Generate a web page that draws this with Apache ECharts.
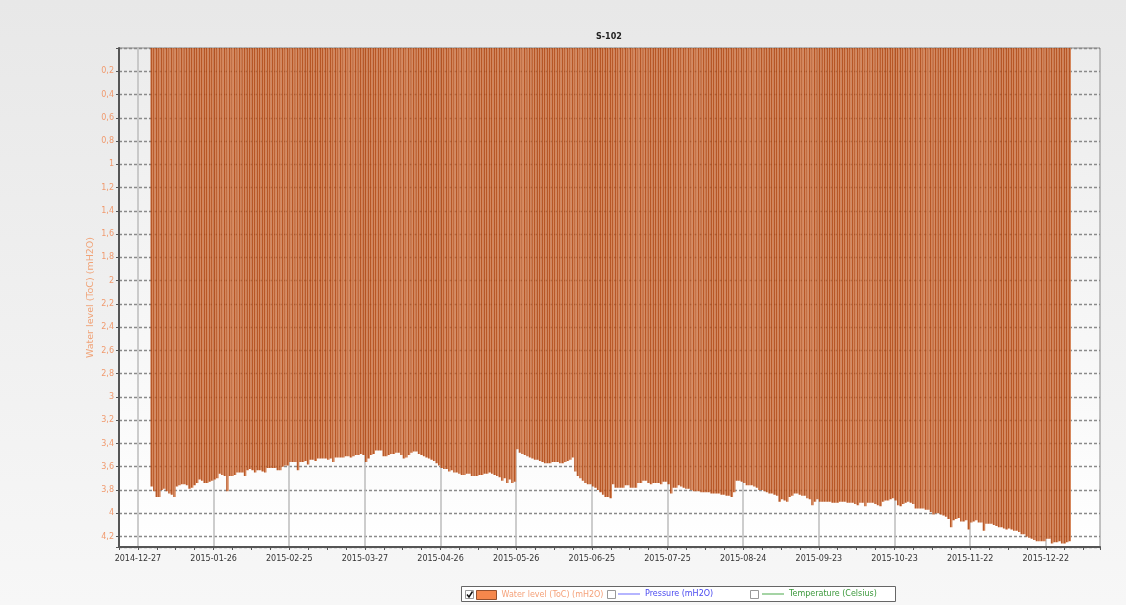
<!DOCTYPE html>
<html><head><meta charset="utf-8">
<script src="https://cdn.jsdelivr.net/npm/echarts@6/dist/echarts.min.js"></script>
<style>html,body{margin:0;padding:0;background:#fff}#c{width:1126px;height:605px}</style>
</head><body><div id="c"></div>
<script>
// ---- data (daily water level, mH2O, 2015) ----
const chartTitle = 'S-102';
const firstDay = '2015-01-01';
const axisOrigin = '2014-12-27';
const jan = [3.77,3.81,3.86,3.86,3.80,3.79,3.81,3.83,3.84,3.86,3.77,3.76,3.75,3.75,3.76,3.79,3.78,3.76,3.74,3.71,3.72,3.74,3.74,3.73,3.72,3.71,3.70,3.66,3.67,3.68,3.81];
const feb = [3.68,3.68,3.67,3.65,3.65,3.65,3.68,3.63,3.62,3.63,3.65,3.63,3.63,3.64,3.65,3.61,3.61,3.61,3.61,3.63,3.63,3.60,3.59,3.59,3.56,3.56,3.56,3.63];
const mar = [3.56,3.56,3.55,3.58,3.54,3.54,3.55,3.53,3.53,3.53,3.53,3.54,3.53,3.56,3.52,3.52,3.52,3.52,3.51,3.51,3.52,3.51,3.50,3.50,3.49,3.50,3.56,3.53,3.50,3.49,3.46];
const apr = [3.46,3.46,3.51,3.51,3.50,3.49,3.49,3.48,3.48,3.50,3.53,3.52,3.50,3.48,3.47,3.47,3.49,3.50,3.51,3.52,3.53,3.54,3.55,3.57,3.59,3.61,3.62,3.62,3.64,3.63];
const may = [3.65,3.65,3.66,3.67,3.67,3.66,3.66,3.68,3.68,3.68,3.67,3.67,3.66,3.66,3.65,3.66,3.67,3.68,3.69,3.72,3.70,3.74,3.71,3.74,3.73,3.45,3.48,3.49,3.50,3.51,3.52];
const jun = [3.53,3.54,3.54,3.55,3.56,3.57,3.57,3.57,3.56,3.56,3.56,3.57,3.57,3.56,3.55,3.54,3.52,3.64,3.68,3.70,3.72,3.74,3.75,3.75,3.77,3.78,3.80,3.82,3.84,3.86];
const jul = [3.86,3.87,3.75,3.78,3.78,3.78,3.78,3.76,3.76,3.78,3.78,3.78,3.74,3.74,3.72,3.72,3.74,3.75,3.74,3.74,3.74,3.75,3.73,3.73,3.75,3.83,3.78,3.78,3.76,3.77,3.78];
const aug = [3.79,3.79,3.80,3.81,3.81,3.81,3.82,3.82,3.82,3.82,3.83,3.83,3.83,3.83,3.84,3.84,3.85,3.85,3.86,3.82,3.72,3.72,3.73,3.74,3.76,3.76,3.76,3.77,3.78,3.80,3.80];
const sep = [3.81,3.82,3.83,3.83,3.84,3.85,3.90,3.88,3.89,3.90,3.86,3.85,3.83,3.83,3.84,3.85,3.85,3.87,3.88,3.93,3.90,3.88,3.90,3.90,3.90,3.90,3.90,3.91,3.91,3.91];
const oct = [3.90,3.90,3.90,3.91,3.91,3.91,3.92,3.93,3.91,3.91,3.94,3.91,3.91,3.91,3.92,3.93,3.94,3.90,3.89,3.89,3.88,3.87,3.89,3.93,3.94,3.92,3.91,3.90,3.91,3.92,3.96];
const nov = [3.96,3.96,3.96,3.97,3.97,3.99,4.01,4.00,4.00,4.01,4.02,4.03,4.05,4.12,4.06,4.05,4.04,4.07,4.07,4.06,4.14,4.08,4.07,4.06,4.08,4.08,4.15,4.09,4.09,4.09];
const dec = [4.10,4.11,4.12,4.12,4.13,4.14,4.13,4.14,4.15,4.15,4.16,4.18,4.18,4.20,4.21,4.22,4.23,4.24,4.24,4.24,4.24,4.22,4.22,4.26,4.25,4.25,4.24,4.26,4.26,4.25,4.24];
const xTickLabels = ['2014-12-27','2015-01-26','2015-02-25','2015-03-27','2015-04-26','2015-05-26','2015-06-25','2015-07-25','2015-08-24','2015-09-23','2015-10-23','2015-11-22','2015-12-22'];
const seriesNames = ['Water level (ToC) (mH2O)', 'Pressure (mH2O)', 'Temperature (Celsius)'];
const yAxisName = 'Water level (ToC) (mH2O)';

// ---- build ----
const levels = [].concat(jan, feb, mar, apr, may, jun, jul, aug, sep, oct, nov, dec);
const DAY = 86400000;
const startOffset = (Date.parse(firstDay) - Date.parse(axisOrigin)) / DAY; // days from axis origin
const barData = levels.map((v, i) => [startOffset + i + 0.5, v]);

const FONT = 'DejaVu Sans';
const chart = echarts.init(document.getElementById('c'), null, {renderer: 'canvas'});

const tr = 'rgba(0,0,0,0)';
const option = {
  animation: false,
  backgroundColor: new echarts.graphic.LinearGradient(0, 0, 0, 1, [
    {offset: 0, color: '#e8e8e8'}, {offset: 1, color: '#f7f7f7'}]),
  title: {
    text: chartTitle, left: 596, top: 33, padding: 0,
    textStyle: {fontFamily: FONT, fontSize: 8, fontWeight: 'bold', color: '#222'}
  },
  grid: {
    left: 119, top: 48, width: 981, height: 499, show: true,
    borderColor: '#8a8a8a', borderWidth: 1,
    backgroundColor: new echarts.graphic.LinearGradient(0, 0, 0, 1, [
      {offset: 0, color: '#ececec'}, {offset: 1, color: '#ffffff'}]),
    containLabel: false, outerBoundsMode: 'none'
  },
  legend: [
    {data: [{name: seriesNames[0], icon: 'rect',
             itemStyle: {color: '#f47a38', borderColor: '#8a4420', borderWidth: 1},
             textStyle: {color: '#f5a27a'}}],
     left: 476, top: 590, padding: 0, itemWidth: 20, itemHeight: 9, itemGap: 5,
     selectedMode: false, textStyle: {fontFamily: FONT, fontSize: 8}},
    {data: [{name: seriesNames[1], icon: 'rect', itemStyle: {color: '#6a6aff'},
             textStyle: {color: '#4a4af0'}}],
     left: 618, top: 590, padding: 0, itemWidth: 22, itemHeight: 1,
     selectedMode: false, textStyle: {fontFamily: FONT, fontSize: 8}},
    {data: [{name: seriesNames[2], icon: 'rect', itemStyle: {color: '#4aa84a'},
             textStyle: {color: '#3a983a'}}],
     left: 762, top: 590, padding: 0, itemWidth: 22, itemHeight: 1,
     selectedMode: false, textStyle: {fontFamily: FONT, fontSize: 8}}
  ],
  xAxis: {
    type: 'value', min: -7.5, max: 381.5, interval: 7.5,
    axisLine: {show: true, onZero: false, lineStyle: {color: '#555', width: 2}},
    axisTick: {show: true, length: 3, lineStyle: {color: '#555', width: 1}},
    axisLabel: {
      show: true, interval: 0, margin: 8, color: '#333', fontFamily: FONT, fontSize: 8,
      showMinLabel: true, showMaxLabel: true,
      formatter: v => {
        const k = Math.round(v / 30);
        if (Math.abs(v - k * 30) > 1e-6) return '';
        return xTickLabels[k] || '';
      }
    },
    splitLine: {show: true, lineStyle: {color: [tr, '#bdbdbd', tr, tr], width: 1.5}}
  },
  yAxis: {
    type: 'value', inverse: true, min: 0, max: 4.29, interval: 0.2,
    name: yAxisName, nameLocation: 'middle', nameGap: 23, nameRotate: 90,
    nameMoveOverlap: false,
    nameTextStyle: {color: '#f0a276', fontFamily: FONT, fontSize: 9.5},
    axisLine: {show: true, onZero: false, lineStyle: {color: '#555', width: 2}},
    axisTick: {show: true, length: 3, lineStyle: {color: '#555'}},
    axisLabel: {
      show: true, margin: 5, color: '#f09a6e', fontFamily: FONT, fontSize: 8,
      formatter: v => {
        if (v < 0.05 || v > 4.25) return '';
        return String(Math.round(v * 10) / 10).replace('.', ',');
      }
    },
    splitLine: {show: true, lineStyle: {color: '#8a8a8a', width: 1.4, type: [3, 2]}}
  },
  series: [
    {
      name: seriesNames[0], type: 'bar', data: barData, barWidth: '100%', barGap: '0%',
      large: false,
      itemStyle: {
        opacity: 0.9,
        color: new echarts.graphic.LinearGradient(0, 0, 1, 0, [
          {offset: 0, color: '#b04610'}, {offset: 0.45, color: '#b04610'},
          {offset: 0.5, color: '#d27a4a'}, {offset: 1, color: '#d27a4a'}])
      }
    },
    {name: seriesNames[1], type: 'line', data: [], symbol: 'none', lineStyle: {color: '#6a6aff'}, itemStyle: {color: '#6a6aff'}},
    {name: seriesNames[2], type: 'line', data: [], symbol: 'none', lineStyle: {color: '#4aa84a'}, itemStyle: {color: '#4aa84a'}}
  ],
  graphic: [
    {type: 'rect', z: 1, shape: {x: 461.5, y: 586.5, width: 434, height: 15},
     style: {fill: '#ffffff', stroke: '#666', lineWidth: 1}},
    {type: 'rect', z: 10, shape: {x: 465.5, y: 590.5, width: 8, height: 8},
     style: {fill: '#fff', stroke: '#999', lineWidth: 1}},
    {type: 'polyline', z: 11, shape: {points: [[467, 594.5], [469, 597], [472.5, 591.5]]},
     style: {fill: null, stroke: '#111', lineWidth: 1.5}},
    {type: 'rect', z: 10, shape: {x: 607.5, y: 590.5, width: 8, height: 8},
     style: {fill: '#fff', stroke: '#999', lineWidth: 1}},
    {type: 'rect', z: 10, shape: {x: 750.5, y: 590.5, width: 8, height: 8},
     style: {fill: '#fff', stroke: '#999', lineWidth: 1}}
  ]
};
chart.setOption(option);
</script>
</body></html>
